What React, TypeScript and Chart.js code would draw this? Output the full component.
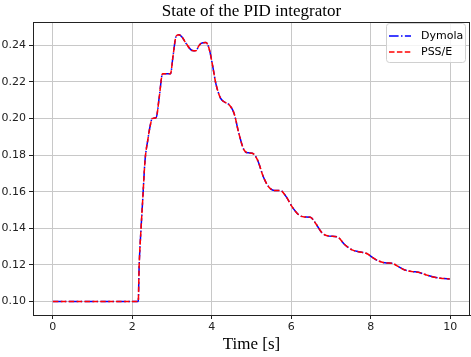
import React, { useEffect, useRef } from "react";
import { Chart, registerables } from "chart.js";

Chart.register(...registerables);

const times = [0, 2.15, 2.17, 2.22, 2.26, 2.32, 2.39, 2.45, 2.5, 2.6, 2.68, 2.76, 2.96, 3.03, 3.1, 3.17, 3.25, 3.35, 3.51, 3.6, 3.67, 3.73, 3.85, 3.93, 4.02, 4.1, 4.22, 4.32, 4.44, 4.56, 4.68, 4.81, 4.92, 5.02, 5.15, 5.3, 5.44, 5.58, 5.73, 5.88, 6.02, 6.19, 6.33, 6.48, 6.62, 6.77, 6.95, 7.15, 7.35, 7.53, 7.7, 7.9, 8.05, 8.2, 8.4, 8.53, 8.7, 8.86, 9.05, 9.2, 9.4, 9.61, 9.8, 9.99];
const dymola = [0.1, 0.1, 0.118, 0.14, 0.155, 0.177, 0.1883, 0.196, 0.2, 0.2005, 0.212, 0.2244, 0.2244, 0.235, 0.2448, 0.2457, 0.2445, 0.2411, 0.2371, 0.237, 0.2395, 0.241, 0.2415, 0.2384, 0.229, 0.2193, 0.2111, 0.209, 0.2074, 0.2029, 0.192, 0.1828, 0.1812, 0.181, 0.1774, 0.168, 0.1624, 0.1606, 0.1606, 0.157, 0.1518, 0.1473, 0.1462, 0.146, 0.1425, 0.1376, 0.1357, 0.1354, 0.131, 0.1282, 0.1272, 0.1262, 0.124, 0.1221, 0.121, 0.1209, 0.119, 0.1172, 0.1163, 0.116, 0.1145, 0.1132, 0.1126, 0.1123];
const psse = [0.1, 0.1, 0.118, 0.14, 0.155, 0.177, 0.1883, 0.196, 0.2, 0.2005, 0.212, 0.2244, 0.2244, 0.235, 0.2448, 0.2457, 0.2445, 0.2411, 0.2371, 0.237, 0.2395, 0.241, 0.2415, 0.2384, 0.229, 0.2193, 0.2111, 0.209, 0.2074, 0.2029, 0.192, 0.1828, 0.1812, 0.181, 0.1774, 0.168, 0.1624, 0.1606, 0.1606, 0.157, 0.1518, 0.1473, 0.1462, 0.146, 0.1425, 0.1376, 0.1357, 0.1354, 0.131, 0.1282, 0.1272, 0.1262, 0.124, 0.1221, 0.121, 0.1209, 0.119, 0.1172, 0.1163, 0.116, 0.1145, 0.1132, 0.1126, 0.1123];
const xTicks = [0, 2, 4, 6, 8, 10];
const yTicks = [0.1, 0.12, 0.14, 0.16, 0.18, 0.2, 0.22, 0.24];
const seriesNames = ["Dymola", "PSS/E"];
const titleText = "State of the PID integrator";
const xTitle = "Time [s]";

const BLUE = "#0000ff";
const RED = "#ff0000";

const decorPlugin = {
  id: "decor",
  afterDraw(chart: any) {
    const { ctx, chartArea } = chart;
    const { left, right, top, bottom } = chartArea;
    ctx.save();
    // frame
    ctx.strokeStyle = "#222";
    ctx.lineWidth = 1;
    ctx.setLineDash([]);
    ctx.strokeRect(Math.round(left) + 0.5, Math.round(top) + 0.5, Math.round(right - left) - 1, Math.round(bottom - top));
    // title
    const cx = (left + right) / 2;
    ctx.fillStyle = "#000";
    ctx.font = '17px "Liberation Serif", "DejaVu Serif", serif';
    ctx.textAlign = "center";
    ctx.textBaseline = "alphabetic";
    ctx.fillText(titleText, cx, 16);
    ctx.fillText(xTitle, cx, 349);
    // legend
    const bx = 386.5, by = 23.5, bw = 79, bh = 39, r = 3;
    ctx.beginPath();
    ctx.moveTo(bx + r, by);
    ctx.lineTo(bx + bw - r, by);
    ctx.quadraticCurveTo(bx + bw, by, bx + bw, by + r);
    ctx.lineTo(bx + bw, by + bh - r);
    ctx.quadraticCurveTo(bx + bw, by + bh, bx + bw - r, by + bh);
    ctx.lineTo(bx + r, by + bh);
    ctx.quadraticCurveTo(bx, by + bh, bx, by + bh - r);
    ctx.lineTo(bx, by + r);
    ctx.quadraticCurveTo(bx, by, bx + r, by);
    ctx.closePath();
    ctx.fillStyle = "rgba(255,255,255,0.8)";
    ctx.fill();
    ctx.strokeStyle = "#d0d0d0";
    ctx.stroke();
    ctx.lineWidth = 1.5;
    ctx.strokeStyle = BLUE;
    ctx.setLineDash([9.6, 2.4, 1.5, 2.4]);
    ctx.beginPath();
    ctx.moveTo(389, 36);
    ctx.lineTo(411, 36);
    ctx.stroke();
    ctx.strokeStyle = RED;
    ctx.setLineDash([5.5, 2.4]);
    ctx.beginPath();
    ctx.moveTo(389, 52);
    ctx.lineTo(411, 52);
    ctx.stroke();
    ctx.setLineDash([]);
    ctx.fillStyle = "#000";
    ctx.font = '11px "DejaVu Sans", sans-serif';
    ctx.textAlign = "left";
    ctx.textBaseline = "middle";
    ctx.fillText(seriesNames[0], 421, 36);
    ctx.fillText(seriesNames[1], 421, 52);
    ctx.restore();
  },
};

export default function App() {
  const ref = useRef<HTMLCanvasElement | null>(null);
  useEffect(() => {
    if (!ref.current) return;
    const chart = new Chart(ref.current, {
      type: "line",
      data: {
        datasets: [
          {
            label: seriesNames[1],
            data: times.map((t, i) => ({ x: t, y: psse[i] })),
            borderColor: RED,
            borderWidth: 1.5,
            borderDash: [5.5, 2.4],
            pointRadius: 0,
            fill: false,
            cubicInterpolationMode: "monotone",
            order: 0,
          },
          {
            label: seriesNames[0],
            data: times.map((t, i) => ({ x: t, y: dymola[i] })),
            borderColor: BLUE,
            borderWidth: 1.5,
            borderDash: [9.6, 2.4, 1.5, 2.4],
            pointRadius: 0,
            fill: false,
            cubicInterpolationMode: "monotone",
            order: 1,
          },
        ],
      },
      options: {
        animation: false,
        responsive: false,
        devicePixelRatio: 1,
        layout: { padding: { top: 22, right: 1, left: 0, bottom: 0 } },
        plugins: { legend: { display: false }, tooltip: { enabled: false }, title: { display: false } },
        scales: {
          x: {
            type: "linear",
            min: -0.5,
            max: 10.5,
            afterBuildTicks: (s: any) => { s.ticks = xTicks.map((v) => ({ value: v })); },
            afterFit: (s: any) => { s.height = 42; },
            ticks: {
              color: "#222",
              font: { family: "DejaVu Sans", size: 11 },
              padding: 2,
              maxRotation: 0,
              callback: (v: any) => String(v),
            },
            grid: { color: "#c8c8c8", lineWidth: 1, tickLength: 4, tickColor: "#222", drawTicks: true },
            border: { display: true, color: "#222", width: 1 },
          },
          y: {
            type: "linear",
            min: 0.0926,
            max: 0.2527,
            afterBuildTicks: (s: any) => { s.ticks = yTicks.map((v) => ({ value: v })); },
            afterFit: (s: any) => { s.width = 33; },
            ticks: {
              color: "#222",
              font: { family: "DejaVu Sans", size: 11 },
              padding: 3,
              callback: (v: any) => Number(v).toFixed(2),
            },
            grid: { color: "#c8c8c8", lineWidth: 1, tickLength: 4, tickColor: "#222", drawTicks: true },
            border: { display: true, color: "#222", width: 1 },
          },
        },
      },
      plugins: [decorPlugin],
    } as any);
    return () => chart.destroy();
  }, []);
  return (
    <div style={{ position: "absolute", left: 0, top: 0, width: 471, height: 357, background: "#fff" }}>
      <canvas ref={ref} width={471} height={357} style={{ display: "block" }} />
    </div>
  );
}
